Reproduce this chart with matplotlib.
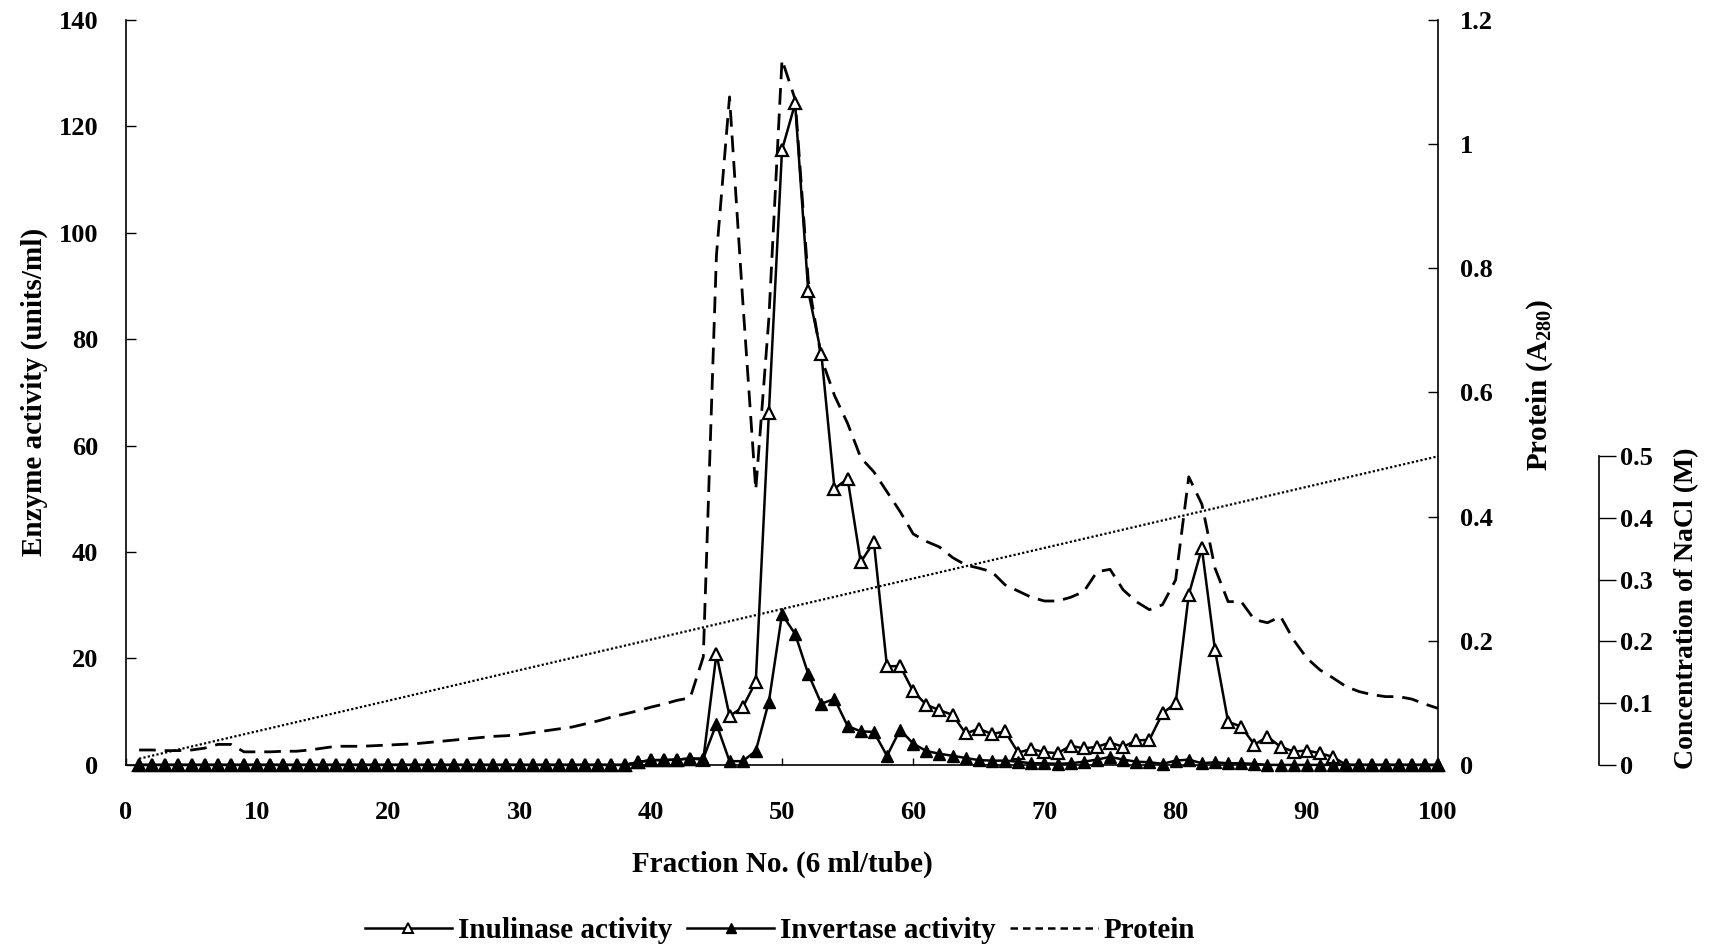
import matplotlib
matplotlib.use("Agg")
import matplotlib.pyplot as plt
from matplotlib.lines import Line2D

plt.rcParams['font.family'] = ['Liberation Serif', 'DejaVu Serif']
plt.rcParams['font.weight'] = 'bold'
plt.rcParams['mathtext.fontset'] = 'custom'
plt.rcParams['mathtext.rm'] = 'Liberation Serif:bold'

# Fraction numbers (6 ml per tube)
fractions = list(range(1, 101))

# Inulinase activity (units/ml)
inulinase = [0.0] * 38 + [
    0.5, 0.9, 0.9, 1.0, 1.2,                                         # 39-43
    1.0, 20.8, 9.2, 10.8, 15.6, 66.2, 115.6, 124.3, 89.0, 77.2,      # 44-53
    51.9, 53.8, 38.1, 41.9, 18.5, 18.6, 13.8, 11.3, 10.3, 9.4,       # 54-63
    5.9, 6.8, 5.8, 6.3, 2.3, 3.0, 2.4, 2.2, 3.6, 3.1,                # 64-73
    3.4, 4.2, 3.4, 4.6, 4.7, 9.7, 11.6, 32.0, 40.7, 21.6,            # 74-83
    8.1, 7.2, 3.8, 5.3, 3.4, 2.5, 2.7, 2.2, 1.5,                     # 84-92
] + [0.0] * 8

# Invertase activity (units/ml)
invertase = [0.0] * 38 + [
    0.5, 0.9, 0.9, 1.0, 1.2,                                         # 39-43
    1.2, 7.7, 0.7, 0.7, 2.6, 11.9, 28.3, 24.6, 17.1, 11.5,           # 44-53
    12.4, 7.3, 6.3, 6.2, 1.7, 6.6, 4.0, 2.6, 2.1, 1.7,               # 54-63
    1.3, 0.9, 0.8, 0.8, 0.6, 0.3, 0.3, 0.2, 0.3, 0.6,                # 64-73
    1.0, 1.5, 1.0, 0.6, 0.5, 0.2, 0.8, 1.0, 0.3, 0.5,                # 74-83
    0.3, 0.3, 0.2,                                                   # 84-86
] + [0.0] * 14

# Protein (A280)
protein = [
    0.024, 0.024, 0.023, 0.023, 0.024, 0.027, 0.033, 0.033, 0.021, 0.021,   # 1-10
    0.021, 0.022, 0.022, 0.024, 0.027, 0.030, 0.030, 0.030, 0.031, 0.032,   # 11-20
    0.033, 0.034, 0.036, 0.038, 0.040, 0.042, 0.044, 0.046, 0.047, 0.049,   # 21-30
    0.052, 0.055, 0.058, 0.061, 0.066, 0.071, 0.077, 0.082, 0.087, 0.093,   # 31-40
    0.098, 0.104, 0.108, 0.174, 0.82, 1.076, 0.75, 0.443, 0.72, 1.136,      # 41-50
    1.072, 0.78, 0.655, 0.595, 0.55, 0.495, 0.472, 0.44, 0.408, 0.372,     # 51-60
    0.36, 0.351, 0.334, 0.322, 0.317, 0.311, 0.29, 0.28, 0.27, 0.264,      # 61-70
    0.264, 0.27, 0.279, 0.311, 0.315, 0.282, 0.263, 0.25, 0.258, 0.298,    # 71-80
    0.464, 0.42, 0.317, 0.263, 0.263, 0.234, 0.229, 0.239, 0.201, 0.172,   # 81-90
    0.153, 0.14, 0.126, 0.118, 0.113, 0.11, 0.11, 0.106, 0.098, 0.091,     # 91-100
]

# Linear NaCl gradient (M), start and end of the elution
nacl_fraction = [1, 100]
nacl_conc = [0.01, 0.5]

fig = plt.figure(figsize=(17.14, 9.49), dpi=100)
ax = fig.add_axes([0.0735, 0.194, 0.7655, 0.785])
ax2 = ax.twinx()
ax3 = ax.twinx()

# enzyme curves above the protein and gradient traces
ax.set_zorder(3)
ax.patch.set_visible(False)
ax2.set_zorder(2)
ax3.set_zorder(1)

tick_font = dict(fontsize=19, fontweight='bold', family='Liberation Serif')
label_size = 21

# Protein
ax2.plot(fractions, protein, color='black', lw=2.0, dashes=(6, 3.2))
ax2.set_ylim(0, 1.2)
ax2.set_yticks([0, 0.2, 0.4, 0.6, 0.8, 1.0, 1.2])
ax2.set_yticklabels(['0', '0.2', '0.4', '0.6', '0.8', '1', '1.2'], **tick_font)
ax2.tick_params(axis='y', direction='in', length=7, width=1, pad=16)
ax2.set_ylabel('Protein (A$_{\\mathregular{280}}$)', fontsize=label_size, fontweight='bold')
ax2.yaxis.set_label_coords(1.066, 0.51)
for s in ['top', 'left', 'bottom']:
    ax2.spines[s].set_visible(False)
ax2.spines['right'].set_linewidth(1.2)

# NaCl gradient on its own short axis
ax3.plot(nacl_fraction, nacl_conc, color='black', lw=1.6, linestyle=(0, (1, 1)), clip_on=False)
ax3.set_ylim(0, 1.207)
ax3.spines['right'].set_position(('axes', 1.1227))
ax3.spines['right'].set_bounds(0, 0.5)
ax3.spines['right'].set_linewidth(1.2)
for s in ['top', 'left', 'bottom']:
    ax3.spines[s].set_visible(False)
ax3.set_yticks([0, 0.1, 0.2, 0.3, 0.4, 0.5])
ax3.set_yticklabels(['0', '0.1', '0.2', '0.3', '0.4', '0.5'], **tick_font)
ax3.tick_params(axis='y', direction='out', length=12, width=1, pad=3)
ax3.set_ylabel('Concentration of NaCl (M)', fontsize=20, fontweight='bold')
ax3.yaxis.set_label_coords(1.18, 0.21)

# Enzyme activities
ax.plot(fractions, inulinase, color='black', lw=1.8, marker='^', ms=9,
        mfc='white', mec='black', mew=1.6, clip_on=False, zorder=3)
ax.plot(fractions, invertase, color='black', lw=1.8, marker='^', ms=9,
        mfc='black', mec='black', clip_on=False, zorder=4)

ax.set_xlim(0, 100)
ax.set_ylim(0, 140)
ax.set_xticks(range(0, 101, 10))
ax.set_xticklabels([str(v) for v in range(0, 101, 10)], **tick_font)
ax.set_yticks(range(0, 141, 20))
ax.set_yticklabels([str(v) for v in range(0, 141, 20)], **tick_font)
ax.tick_params(axis='y', direction='in', length=7, width=1, pad=20)
ax.tick_params(axis='x', direction='in', length=5, width=1, pad=26)
ax.spines['top'].set_visible(False)
ax.spines['right'].set_visible(False)
ax.spines['left'].set_linewidth(1.2)
ax.spines['bottom'].set_linewidth(1.2)
ax.set_ylabel('Enzyme activity (units/ml)', fontsize=label_size, fontweight='bold')
ax.yaxis.set_label_coords(-0.0595, 0.5)
ax.set_xlabel('Fraction No. (6 ml/tube)', fontsize=label_size, fontweight='bold', labelpad=19)

handles = [
    Line2D([], [], color='black', lw=1.8, marker='^', ms=7, mfc='white', mec='black', mew=1.4),
    Line2D([], [], color='black', lw=1.8, marker='^', ms=7, mfc='black', mec='black'),
    Line2D([], [], color='black', lw=1.8, dashes=(3, 2)),
]
fig.legend(handles, ['Inulinase activity', 'Invertase activity', 'Protein'],
           loc='center', bbox_to_anchor=(0.455, 0.019), ncol=3, frameon=False,
           prop=dict(family='Liberation Serif', weight='bold', size=21),
           handlelength=3.0, handletextpad=0.2, columnspacing=0.5)

fig.savefig('out.png', dpi=100, facecolor='white')
